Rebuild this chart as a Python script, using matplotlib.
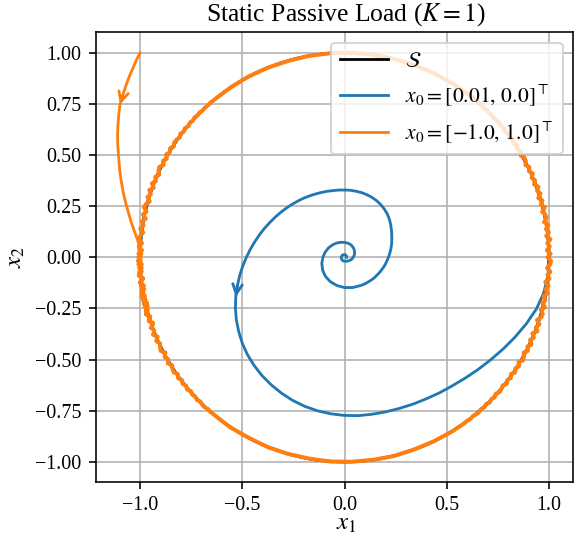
import numpy as np
import matplotlib
matplotlib.use("Agg")
import matplotlib.pyplot as plt
from matplotlib.patches import Circle
from matplotlib.lines import Line2D

plt.rcParams["font.family"] = "serif"
plt.rcParams["font.serif"] = ["Liberation Serif", "DejaVu Serif"]
plt.rcParams["mathtext.fontset"] = "stix"
plt.rcParams["font.size"] = 10

# invariant set S: unit circle
S_RADIUS = 1.0

# trajectory from x0 = [0.01, 0.0], in polar form (cumulative angle in deg, radius)
blue_inner_deg = np.arange(0, 661, 15)
blue_inner_r = [
    0.010, 0.0105, 0.011, 0.0115, 0.012, 0.0125, 0.013, 0.0135, 0.014, 0.0145,
    0.015, 0.0155, 0.016, 0.0165, 0.017, 0.0175, 0.018, 0.0185, 0.019, 0.020,
    0.022, 0.025, 0.030, 0.036, 0.043, 0.050, 0.057, 0.063, 0.068, 0.071,
    0.073, 0.076, 0.080, 0.085, 0.091, 0.098, 0.106, 0.115, 0.124, 0.132,
    0.138, 0.143, 0.148, 0.153, 0.159]
blue_outer_deg = np.arange(665, 1076, 5)
blue_outer_r = [
    0.162, 0.165, 0.168, 0.172, 0.176, 0.180, 0.185, 0.190, 0.196, 0.202,
    0.208, 0.215, 0.222, 0.230, 0.238, 0.246, 0.255, 0.265, 0.276, 0.287,
    0.297, 0.305, 0.312, 0.318, 0.322, 0.325, 0.327, 0.328, 0.329, 0.329,
    0.330, 0.331, 0.334, 0.337, 0.341, 0.346, 0.352, 0.358, 0.365, 0.373,
    0.382, 0.392, 0.403, 0.416, 0.430, 0.445, 0.462, 0.480, 0.500, 0.521,
    0.543, 0.566, 0.589, 0.611, 0.632, 0.653, 0.672, 0.689, 0.705, 0.719,
    0.732, 0.744, 0.754, 0.762, 0.768, 0.773, 0.777, 0.779, 0.782, 0.786,
    0.792, 0.799, 0.809, 0.820, 0.835, 0.853, 0.873, 0.896, 0.921, 0.947,
    0.972, 0.990, 0.999]
# once on S it keeps going round
blue_ring_deg = np.arange(1080, 1444, 4)
blue_ring_r = np.full(blue_ring_deg.shape, S_RADIUS)
BLUE_ARROW_DEG = 920

# trajectory from x0 = [-1.0, 1.0]: approach to S
orange_x1 = [-1.000, -1.020, -1.038, -1.055, -1.070, -1.085, -1.098, -1.104, -1.108, -1.110,
             -1.109, -1.105, -1.100, -1.093, -1.083, -1.070, -1.056, -1.042, -1.027, -1.013,
             -1.003]
orange_x2 = [1.000, 0.960, 0.918, 0.878, 0.837, 0.792, 0.747, 0.700, 0.650, 0.600,
             0.550, 0.493, 0.430, 0.379, 0.320, 0.266, 0.215, 0.168, 0.125, 0.087,
             0.055]
ORANGE_ARROW_AT = 6

# then around S, chattering on the sides: radial deviation from S per angle (deg)
orange_left_deg = np.arange(178, 231, 1)
orange_left_dev = [
    0.004, -0.006, 0.008, -0.003, 0.009, -0.007, 0.005, 0.010, -0.006, 0.007,
    -0.009, 0.004, -0.002, 0.011, -0.005, 0.008, -0.008, 0.006, 0.009, -0.004,
    0.007, -0.010, 0.005, -0.003, 0.010, -0.007, 0.008, -0.005, 0.004, 0.009,
    -0.008, 0.006, -0.004, 0.008, -0.006, 0.003, 0.007, -0.005, 0.006, -0.004,
    0.005, -0.003, 0.006, -0.004, 0.003, -0.002, 0.004, -0.003, 0.002, 0.003,
    -0.002, 0.001, 0.000]
orange_bottom_deg = np.arange(236, 306, 6)
orange_bottom_dev = [0.002, -0.001, 0.001, 0.000, -0.001, 0.001, 0.000, 0.000, 0.001, -0.001,
                     0.000, 0.001]
orange_right_deg = np.arange(306, 413, 1)
orange_right_dev = [
    0.001, -0.001, 0.002, -0.002, 0.002, 0.003, -0.002, 0.003, -0.003, 0.004,
    -0.002, 0.004, -0.004, 0.005, 0.002, -0.005, 0.006, -0.003, 0.005, -0.006,
    0.007, -0.004, 0.006, -0.007, 0.008, 0.003, -0.008, 0.007, -0.005, 0.009,
    -0.007, 0.006, -0.009, 0.010, -0.004, 0.008, -0.010, 0.006, 0.009, -0.006,
    0.011, -0.008, 0.005, -0.009, 0.010, -0.005, 0.007, -0.011, 0.008, -0.004,
    0.009, -0.008, 0.006, 0.010, -0.007, 0.008, -0.010, 0.005, -0.006, 0.011,
    -0.008, 0.007, -0.005, 0.009, -0.009, 0.006, 0.004, -0.008, 0.010, -0.006,
    0.007, -0.009, 0.008, -0.004, 0.009, -0.007, 0.005, -0.006, 0.008, -0.005,
    0.006, -0.007, 0.004, 0.006, -0.005, 0.005, -0.004, 0.006, -0.003, 0.004,
    -0.005, 0.003, -0.003, 0.004, -0.002, 0.003, 0.002, -0.003, 0.002, -0.002,
    0.002, -0.001, 0.002, -0.001, 0.001, 0.000, 0.001]
orange_top_deg = np.arange(418, 490, 6)
orange_top_dev = [0.000, 0.001, 0.000, -0.001, 0.000, 0.001, 0.000, 0.000, -0.001, 0.000,
                  0.001, 0.000]
orange_return_deg = np.arange(490, 561, 1)
orange_return_dev = [
    0.000, 0.001, -0.001, 0.001, -0.002, 0.002, -0.001, 0.003, -0.002, 0.003,
    -0.003, 0.004, -0.002, 0.005, -0.004, 0.003, 0.005, -0.005, 0.006, -0.004,
    0.007, -0.006, 0.005, -0.007, 0.008, 0.004, -0.008, 0.006, -0.005, 0.009,
    -0.007, 0.010, -0.004, 0.008, -0.009, 0.006, 0.011, -0.006, 0.008, -0.010,
    0.007, -0.005, 0.009, -0.008, 0.005, 0.010, -0.007, 0.006, -0.009, 0.008,
    -0.004, 0.011, -0.008, 0.006, -0.006, 0.009, -0.010, 0.007, 0.005, -0.008,
    0.009, -0.006, 0.008, -0.009, 0.006, -0.004, 0.010, -0.007, 0.005, -0.008,
    0.006]

xticks = [-1.0, -0.5, 0.0, 0.5, 1.0]
yticks = [-1.0, -0.75, -0.5, -0.25, 0.0, 0.25, 0.5, 0.75, 1.0]


def polar_to_xy(deg, r):
    th = np.deg2rad(np.asarray(deg, dtype=float))
    r = np.asarray(r, dtype=float)
    return r * np.cos(th), r * np.sin(th)


blue_deg = np.concatenate([blue_inner_deg, blue_outer_deg, blue_ring_deg])
blue_r = np.concatenate([blue_inner_r, blue_outer_r, blue_ring_r])
blue_x, blue_y = polar_to_xy(blue_deg, blue_r)

ring_deg = np.concatenate([orange_left_deg, orange_bottom_deg, orange_right_deg,
                           orange_top_deg, orange_return_deg])
ring_dev = np.concatenate([orange_left_dev, orange_bottom_dev, orange_right_dev,
                           orange_top_dev, orange_return_dev])
ox_ring, oy_ring = polar_to_xy(ring_deg, S_RADIUS + ring_dev)
# join the approach onto the ring
ox_ring = np.concatenate([orange_x1[-1:], ox_ring])
oy_ring = np.concatenate([orange_x2[-1:], oy_ring])

c_blue = "#1f77b4"
c_orange = "#ff7f0e"
lw = 1.4

fig = plt.figure(figsize=(580 / 144, 544 / 144), dpi=144)
ax = fig.add_axes([0.165, 0.1134, 0.9885 - 0.165, 0.9406 - 0.1134])

ax.add_patch(Circle((0, 0), S_RADIUS, fill=False, ec="black", lw=lw, zorder=2))
ax.plot(blue_x, blue_y, color=c_blue, lw=lw, zorder=3)
# the ring part is traced over and over, so it reads heavier
ax.plot(orange_x1, orange_x2, color=c_orange, lw=lw, zorder=4,
        solid_capstyle="round")
ax.plot(ox_ring, oy_ring, color=c_orange, lw=2.0, zorder=4)

# direction arrows along each trajectory
kb = int(np.flatnonzero(blue_deg == BLUE_ARROW_DEG)[0])
for xs, ys, k, c in [(blue_x, blue_y, kb, c_blue),
                     (orange_x1, orange_x2, ORANGE_ARROW_AT, c_orange)]:
    ax.annotate("", xy=(xs[k], ys[k]), xytext=(xs[k - 1], ys[k - 1]),
                arrowprops=dict(arrowstyle="->", color=c, lw=lw,
                                shrinkA=0, shrinkB=0, mutation_scale=12),
                zorder=5)

ax.set_xlim(-1.217, 1.119)
ax.set_ylim(-1.1, 1.1)
ax.set_xticks(xticks)
ax.set_yticks(yticks)
ax.grid(True, color="#b0b0b0", lw=0.8)
ax.set_axisbelow(True)

ax.set_xlabel(r"$x_1$", fontsize=12.5, labelpad=-1, x=0.524)
ax.set_ylabel(r"$x_2$", fontsize=12.5)
ax.set_title(r"Static Passive Load ($K=1$)", fontsize=12.8, x=0.524)

handles = [Line2D([], [], color="black", lw=lw),
           Line2D([], [], color=c_blue, lw=lw),
           Line2D([], [], color=c_orange, lw=lw)]
labels = [r"$\mathcal{S}$",
          r"$x_0 = [0.01,\, 0.0]^\top$",
          r"$x_0 = [-1.0,\, 1.0]^\top$"]
ax.legend(handles, labels, loc="upper right", fontsize=10.8, handlelength=2.25)

fig.savefig("out.png", dpi=144)
